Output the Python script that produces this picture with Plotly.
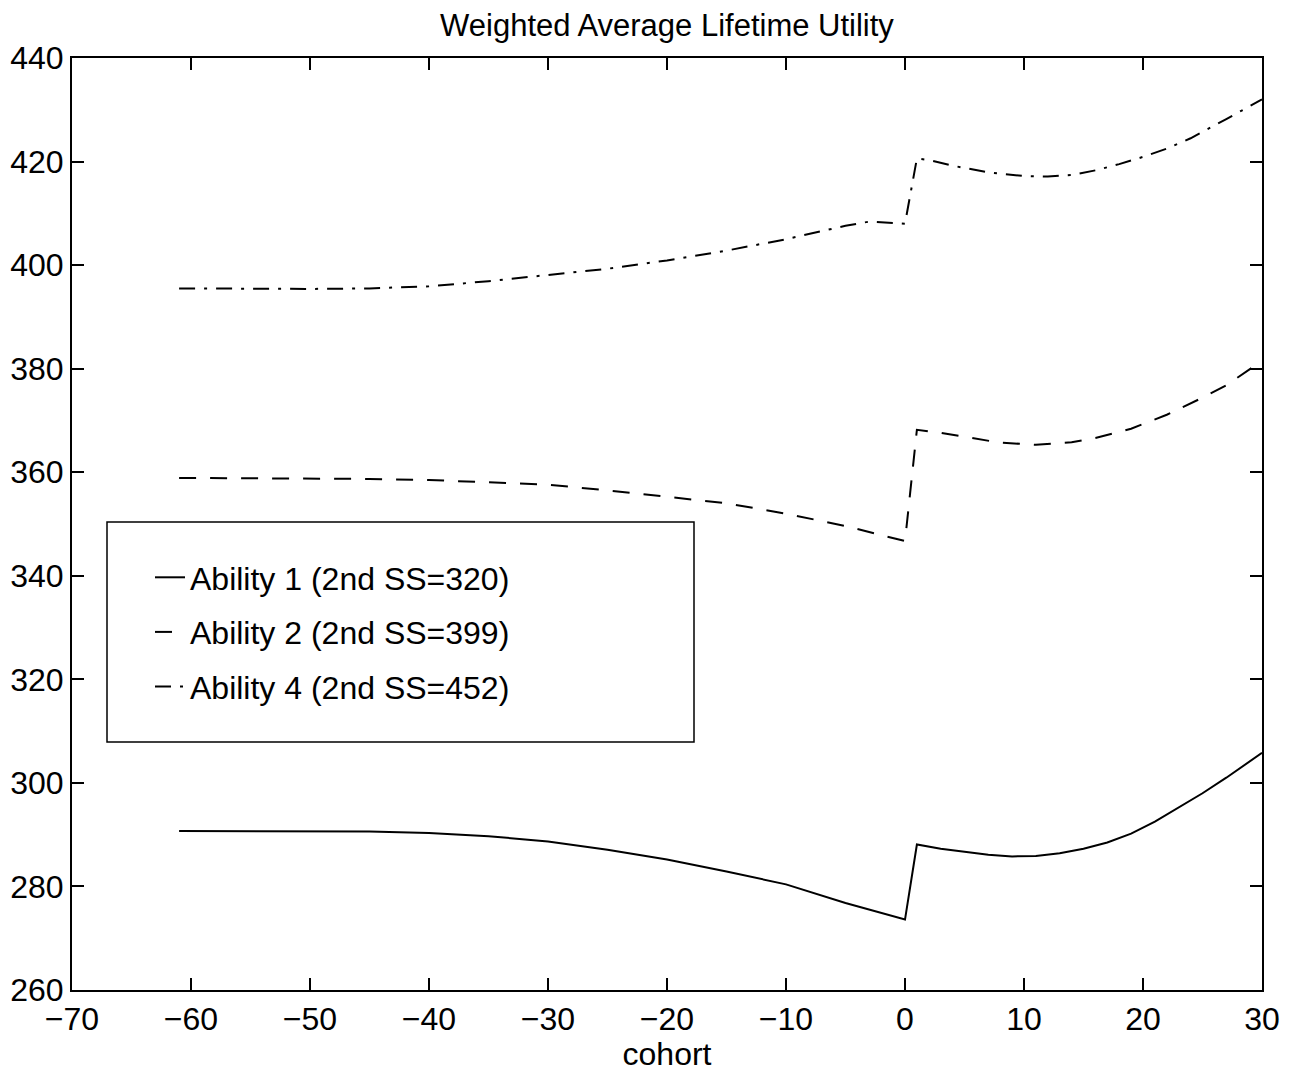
import plotly.graph_objects as go

# ---- data ----
cohort_a1 = [-61, -50, -45, -40, -35, -30, -25, -20, -15, -10, -5, 0,
             1, 3, 5, 7, 9, 11, 13, 15, 17, 19, 21, 23, 25, 27, 29, 30]
ability1 = [290.7, 290.7, 290.6, 290.3, 289.7, 288.7, 287.1, 285.2, 282.9, 280.4, 276.8, 273.6,
            288.1, 287.3, 286.7, 286.1, 285.8, 285.9, 286.4, 287.3, 288.5, 290.2, 292.5, 295.2, 298.0, 301.0, 304.2, 305.8]

cohort_a2 = [-61, -50, -45, -40, -35, -30, -25, -20, -15, -10, -5, 0,
             1, 3, 5, 8, 11, 14, 16, 19, 22, 25, 27, 30]
ability2 = [358.9, 358.8, 358.7, 358.5, 358.1, 357.6, 356.5, 355.2, 354.0, 352.0, 349.6, 346.7,
            368.2, 367.6, 366.8, 365.7, 365.3, 365.8, 366.6, 368.4, 371.1, 374.4, 376.8, 381.5]

cohort_a4 = [-61, -50, -45, -40, -35, -30, -25, -20, -15, -10, -5, -3, 0,
             1, 2, 4, 7, 10, 12, 14, 16, 18, 20, 22, 24, 27, 30]
ability4 = [395.5, 395.4, 395.5, 395.9, 396.9, 398.1, 399.3, 400.9, 402.8, 405.0, 407.6, 408.4, 408.0,
            420.6, 420.3, 419.2, 417.9, 417.2, 417.1, 417.4, 418.3, 419.5, 420.9, 422.5, 424.5, 428.2, 432.0]

names = ["Ability 1 (2nd SS=320)", "Ability 2 (2nd SS=399)", "Ability 4 (2nd SS=452)"]
x_ticks = list(range(-70, 31, 10))
y_ticks = list(range(260, 441, 20))

FONT = "Liberation Sans, Arial, Helvetica, sans-serif"

# page offset (browser body margin) is 8px; plot area in page: x 72..1262, y 58..990
OFF = 8
W, H = 1290 - OFF, 1072 - OFF
L, T = 72 - OFF, 58 - OFF
PW, PH = 1190, 932
R, B = W - L - PW, H - T - PH

fig = go.Figure()
fig.add_trace(go.Scatter(x=cohort_a1, y=ability1, mode="lines", name=names[0], legendgroup="a1",
                         line=dict(color="black", width=2, dash="solid")))
fig.add_trace(go.Scatter(x=cohort_a2, y=ability2, mode="lines", name=names[1], legendgroup="a2",
                         line=dict(color="black", width=2, dash="17px,14px")))
fig.add_trace(go.Scatter(x=cohort_a4, y=ability4, mode="lines", name=names[2], legendgroup="a4",
                         line=dict(color="black", width=2, dash="16px,9px,3px,9px")))

axis_common = dict(
    showgrid=False, zeroline=False, showline=True, linecolor="black", linewidth=2,
    mirror="ticks", ticks="inside", ticklen=12, tickwidth=1.5, tickcolor="black",
    tickfont=dict(family=FONT, size=32, color="black"), automargin=False,
)

fig.update_layout(
    width=W, height=H,
    margin=dict(l=L, r=R, t=T, b=B, autoexpand=False),
    paper_bgcolor="white", plot_bgcolor="white",
    title=dict(text="Weighted Average Lifetime Utility", x=(L + PW / 2) / W, xanchor="center",
               y=1 - 17 / H, yanchor="middle", yref="container", automargin=False,
               font=dict(family=FONT, size=31, color="black")),
    xaxis=dict(range=[-70, 30], tickvals=x_ticks, ticktext=[str(v).replace("-", "\u2212") for v in x_ticks],
               title=dict(text="cohort", font=dict(family=FONT, size=32, color="black"), standoff=0),
               **axis_common),
    yaxis=dict(range=[260, 440], tickvals=y_ticks, ticklabelstandoff=0, **axis_common),
    showlegend=True,
    legend=dict(x=(150 - 72) / PW, xanchor="left", y=(990 - 550) / PH, yanchor="top",
                bgcolor="rgba(0,0,0,0)", borderwidth=0, tracegroupgap=10,
                font=dict(family=FONT, size=32, color="black")),
    shapes=[dict(type="rect", xref="paper", yref="paper",
                 x0=(107 - 72) / PW, x1=(694 - 72) / PW,
                 y0=(990 - 742) / PH, y1=(990 - 522) / PH,
                 line=dict(color="black", width=1.5), fillcolor="white", layer="above")],
)

fig.write_html("out.html")
